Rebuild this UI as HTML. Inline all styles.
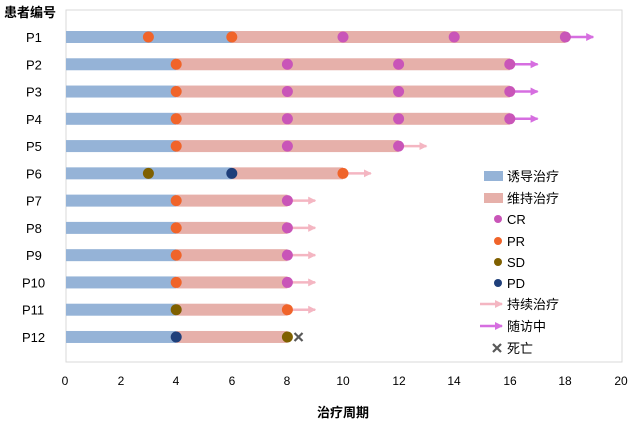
<!DOCTYPE html>
<html><head><meta charset="utf-8"><style>body{margin:0;background:#fff}</style></head><body>
<svg width="633" height="431" xmlns="http://www.w3.org/2000/svg" font-family="Liberation Sans, Noto Sans CJK SC, sans-serif">
<defs>
<marker id="pa" markerWidth="8" markerHeight="8" refX="7" refY="4" orient="auto" markerUnits="userSpaceOnUse"><path d="M0,0 L8,4 L0,8 z" fill="#f4b6c2"/></marker>
<marker id="ma" markerWidth="8" markerHeight="8" refX="7" refY="4" orient="auto" markerUnits="userSpaceOnUse"><path d="M0,0 L8,4 L0,8 z" fill="#d66ee0"/></marker>
</defs>
<rect x="66" y="10" width="556" height="352" fill="none" stroke="#d9d9d9"/>
<text x="4" y="17" font-size="13" font-weight="bold" fill="#000">患者编号</text>
<g id="rows"></g>
<g font-size="12" text-anchor="middle" fill="#000">
<text x="65" y="385">0</text><text x="121" y="385">2</text><text x="176" y="385">4</text><text x="232" y="385">6</text><text x="287" y="385">8</text><text x="343" y="385">10</text><text x="399" y="385">12</text><text x="454" y="385">14</text><text x="510" y="385">16</text><text x="565" y="385">18</text><text x="621" y="385">20</text>
<text x="343" y="417" font-size="13" font-weight="bold">治疗周期</text>
</g>
<g font-size="13" fill="#000">
<rect x="484" y="171" width="19" height="10" fill="#95b3d7"/><text x="507" y="181">诱导治疗</text>
<rect x="484" y="193" width="19" height="10" fill="#e6b0aa"/><text x="507" y="203">维持治疗</text>
<circle cx="498" cy="219" r="4" fill="#c955b8"/><text x="507" y="224">CR</text>
<circle cx="498" cy="241" r="4" fill="#f0642a"/><text x="507" y="246">PR</text>
<circle cx="498" cy="262" r="4" fill="#7f6000"/><text x="507" y="267">SD</text>
<circle cx="498" cy="283" r="4" fill="#1f3f7a"/><text x="507" y="288">PD</text>
<line x1="480" y1="304" x2="502" y2="304" stroke="#f4b6c2" stroke-width="2.5" marker-end="url(#pa)"/><text x="507" y="309">持续治疗</text>
<line x1="480" y1="326" x2="502" y2="326" stroke="#d66ee0" stroke-width="2.5" marker-end="url(#ma)"/><text x="507" y="331">随访中</text>
<path d="M493,344 L501,352 M501,344 L493,352" stroke="#595959" stroke-width="2.2"/><text x="507" y="353">死亡</text>
</g>
</svg>
<script>
var X=v=>65+v*27.8;
var C={CR:"#c955b8",PR:"#f0642a",SD:"#7f6000",PD:"#1f3f7a"};
var D=[
[6,18,[[3,"PR"],[6,"PR"],[10,"CR"],[14,"CR"],[18,"CR"]],"m",19],
[4,16,[[4,"PR"],[8,"CR"],[12,"CR"],[16,"CR"]],"m",17],
[4,16,[[4,"PR"],[8,"CR"],[12,"CR"],[16,"CR"]],"m",17],
[4,16,[[4,"PR"],[8,"CR"],[12,"CR"],[16,"CR"]],"m",17],
[4,12,[[4,"PR"],[8,"CR"],[12,"CR"]],"p",13],
[6,10,[[3,"SD"],[6,"PD"],[10,"PR"]],"p",11],
[4,8,[[4,"PR"],[8,"CR"]],"p",9],
[4,8,[[4,"PR"],[8,"CR"]],"p",9],
[4,8,[[4,"PR"],[8,"CR"]],"p",9],
[4,8,[[4,"PR"],[8,"CR"]],"p",9],
[4,8,[[4,"SD"],[8,"PR"]],"p",9],
[4,8,[[4,"PD"],[8,"SD"]],"x",0]];
var s="";
D.forEach((d,i)=>{var y=37+i*27.27;
s+=`<text x="${i<9?26:22}" y="${y+5}" font-size="13" fill="#000">P${i+1}</text>`;
s+=`<rect x="${X(0)+1}" y="${y-6}" width="${X(d[0])-X(0)-1}" height="12" fill="#95b3d7"/>`;
s+=`<rect x="${X(d[0])}" y="${y-6}" width="${X(d[1])-X(d[0])}" height="12" fill="#e6b0aa"/>`;
if(d[3]=="x"){var cx=X(8.4);s+=`<path d="M${cx-4},${y-4} L${cx+4},${y+4} M${cx+4},${y-4} L${cx-4},${y+4}" stroke="#595959" stroke-width="2.2"/>`;}
else s+=`<line x1="${X(d[1])}" y1="${y}" x2="${X(d[4])}" y2="${y}" stroke="${d[3]=="m"?"#d66ee0":"#f4b6c2"}" stroke-width="2.5" marker-end="url(#${d[3]=="m"?"ma":"pa"})"/>`;
d[2].forEach(p=>{s+=`<circle cx="${X(p[0])}" cy="${y}" r="5.5" fill="${C[p[1]]}"/>`;});
});
document.getElementById("rows").innerHTML=s;
</script>
</body></html>
